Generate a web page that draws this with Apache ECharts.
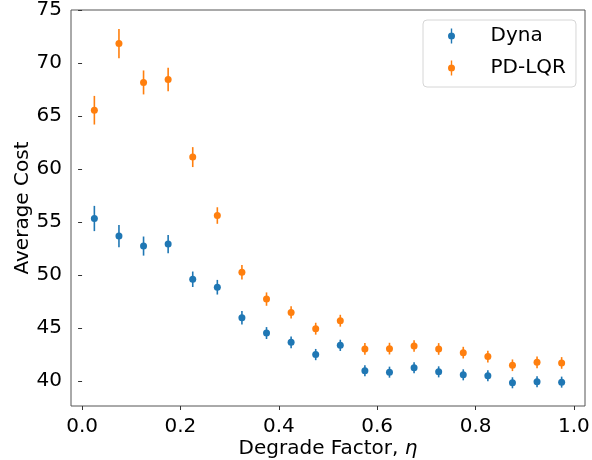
<!DOCTYPE html>
<html>
<head>
<meta charset="utf-8">
<script src="https://cdn.jsdelivr.net/npm/echarts@6/dist/echarts.min.js"></script>
<style>html,body{margin:0;padding:0;background:#fff}#c{width:592px;height:460px}</style>
</head>
<body>
<div id="c"></div>
<script>
var etaValues = [0.025,0.075,0.125,0.175,0.225,0.275,0.325,0.375,0.425,0.475,0.525,0.575,0.625,0.675,0.725,0.775,0.825,0.875,0.925,0.975];
var dynaMean = [55.34,53.68,52.74,52.93,49.61,48.86,45.98,44.54,43.66,42.51,43.38,40.98,40.85,41.26,40.88,40.60,40.51,39.85,39.94,39.91];
var dynaErr  = [1.19,1.05,0.90,0.86,0.73,0.69,0.63,0.56,0.55,0.53,0.53,0.52,0.52,0.52,0.52,0.52,0.52,0.52,0.52,0.52];
var pdlqrMean = [65.55,71.83,68.17,68.45,61.13,55.62,50.27,47.74,46.48,44.95,45.70,43.04,43.07,43.32,43.04,42.69,42.32,41.50,41.78,41.72];
var pdlqrErr  = [1.35,1.38,1.13,1.10,0.94,0.78,0.69,0.63,0.58,0.56,0.56,0.55,0.55,0.55,0.55,0.55,0.55,0.55,0.55,0.55];
var xTicks = [0,0.2,0.4,0.6,0.8,1.0];
var yTicks = [40,45,50,55,60,65,70,75];
var seriesNames = ['Dyna','PD-LQR'];
var colors = ['#1f77b4','#ff7f0e'];

function pts(means){ return etaValues.map(function(x,i){ return [x, means[i]]; }); }
function errData(means, errs){ return etaValues.map(function(x,i){ return [x, means[i]-errs[i], means[i]+errs[i]]; }); }
function errSeries(means, errs, color){
  return {
    type:'custom', silent:true, z:2,
    data: errData(means, errs),
    encode:{x:0, y:[1,2]},
    renderItem:function(params, api){
      var lo = api.coord([api.value(0), api.value(1)]);
      var hi = api.coord([api.value(0), api.value(2)]);
      return {type:'line', shape:{x1:lo[0],y1:lo[1],x2:hi[0],y2:hi[1]}, style:{stroke:color, lineWidth:1.6}};
    }
  };
}
var FONT = 'DejaVu Sans';
var FS = 20;
var iconPath = 'path://M3.3,0 L4.7,0 L4.7,15 L3.3,15 Z M0.5,7.5 A3.5,3.5 0 1,1 7.5,7.5 A3.5,3.5 0 1,1 0.5,7.5 Z';
var chart = echarts.init(document.getElementById('c'), null, {renderer:'canvas'});
chart.setOption({
  animation:false,
  backgroundColor:'#fff',
  grid:{left:71, top:10, right:7, bottom:54, show:true, borderColor:'#555', borderWidth:1, backgroundColor:'transparent', containLabel:false, outerBoundsMode:'none'},
  legend:{
    data:seriesNames, orient:'vertical', left:423, top:20,
    backgroundColor:'#fff', borderColor:'#d6d6d6', borderWidth:1, borderRadius:4,
    padding:[6,10,9,25], itemGap:12, itemWidth:8, itemHeight:15,
    icon:iconPath,
    textStyle:{fontFamily:FONT, fontSize:FS, color:'#000', lineHeight:20, padding:[0,0,0,30]}
  },
  xAxis:{
    type:'value', min:-0.0225, max:1.0225,
    axisLine:{show:false}, splitLine:{show:false},
    axisTick:{show:true, inside:false, length:4, lineStyle:{color:'#333'}, customValues:xTicks},
    axisLabel:{customValues:xTicks, fontFamily:FONT, fontSize:FS, color:'#000', margin:11, formatter:function(v){return v.toFixed(1);}},
    name:'{a|Degrade Factor, }{b|η}', nameLocation:'middle', nameGap:33, nameMoveOverlap:false,
    nameTextStyle:{fontFamily:FONT, fontSize:FS, color:'#000', rich:{a:{fontFamily:FONT,fontSize:FS,color:'#000'}, b:{fontFamily:FONT,fontSize:FS,fontStyle:'italic',color:'#000'}}}
  },
  yAxis:{
    type:'value', min:37.66, max:75.0,
    axisLine:{show:false}, splitLine:{show:false},
    axisTick:{show:true, inside:false, length:4, lineStyle:{color:'#333'}, customValues:yTicks},
    axisLabel:{customValues:yTicks, fontFamily:FONT, fontSize:FS, color:'#000', margin:9},
    name:'Average Cost', nameLocation:'middle', nameGap:38, nameRotate:90, nameMoveOverlap:false,
    nameTextStyle:{fontFamily:FONT, fontSize:FS, color:'#000'}
  },
  series:[
    errSeries(dynaMean, dynaErr, colors[0]),
    errSeries(pdlqrMean, pdlqrErr, colors[1]),
    {name:seriesNames[0], type:'scatter', data:pts(dynaMean), symbol:'circle', symbolSize:7, itemStyle:{color:colors[0], opacity:1}, z:3},
    {name:seriesNames[1], type:'scatter', data:pts(pdlqrMean), symbol:'circle', symbolSize:7, itemStyle:{color:colors[1], opacity:1}, z:3}
  ]
});
</script>
</body>
</html>
